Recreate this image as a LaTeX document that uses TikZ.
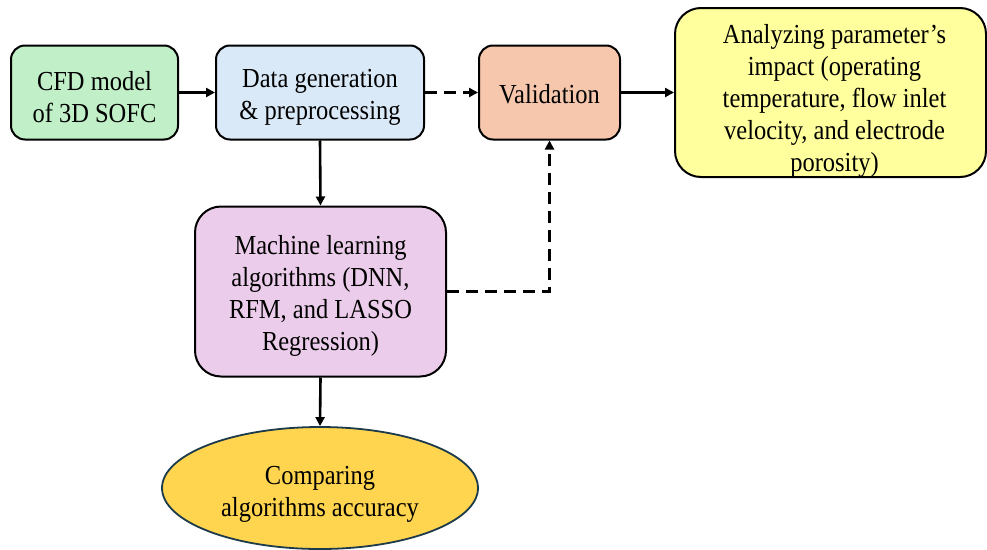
\documentclass[tikz,border=0pt]{standalone}
\usepackage{fontspec}
\setmainfont[FakeStretch=0.89]{Liberation Serif}
\usetikzlibrary{arrows.meta,shapes.geometric}
\definecolor{cfdgreen}{HTML}{C1F0C8}
\definecolor{datablue}{HTML}{DAE9F8}
\definecolor{valpeach}{HTML}{F6C6AD}
\definecolor{mlpurple}{HTML}{EBCCEA}
\definecolor{anayellow}{HTML}{FFFF9E}
\definecolor{cmpgold}{HTML}{FFD54F}
\definecolor{cmpborder}{HTML}{1C3A4A}
\begin{document}
\begin{tikzpicture}[x=1pt,y=-1pt,
  txt/.style={font=\fontsize{27.5}{32}\selectfont,align=center,inner sep=0pt},
  box/.style={draw=black,line width=2pt,rounded corners=14pt,inner sep=0pt},
  conn/.style={line width=2.6pt,-{Triangle[length=9pt,width=9pt]}},
  dconn/.style={conn,dash pattern=on 12pt off 7pt}]
\useasboundingbox (0,0) rectangle (987,549);
% boxes
\node[box,fill=cfdgreen,minimum width=167pt,minimum height=94pt] (cfd) at (94.5,92.5) {};
\node[box,fill=datablue,minimum width=208pt,minimum height=94pt] (data) at (320,92.5) {};
\node[box,fill=valpeach,minimum width=141pt,minimum height=94pt] (val) at (549.5,92.5) {};
\node[box,fill=anayellow,rounded corners=26pt,minimum width=311pt,minimum height=169pt] (ana) at (830.5,92.5) {};
\node[box,fill=mlpurple,rounded corners=26pt,minimum width=251pt,minimum height=170pt] (ml) at (320.5,291.5) {};
\node[ellipse,draw=cmpborder,line width=1.8pt,fill=cmpgold,inner sep=0pt,
  minimum width=316pt,minimum height=122pt] (cmp) at (320,488) {};
% texts
\node[txt] (cfdtext) at ([yshift=-5pt]cfd.center) {CFD model\\of 3D SOFC};
\node[txt] (datatext) at ([yshift=-5pt]data.center) {Data generation\\\& preprocessing};
\node[txt] (valtext) at ([yshift=-2pt]val.center) {Validation};
\node[txt] (anatext) at ([xshift=4pt,yshift=-8pt]ana.center) {Analyzing parameter’s\\impact (operating\\temperature, flow inlet\\velocity, and electrode\\porosity)};
\node[txt] (mltext) at ([yshift=-4pt]ml.center) {Machine learning\\algorithms (DNN,\\RFM, and LASSO\\Regression)};
\node[txt] (cmptext) at ([yshift=-6pt]cmp.center) {Comparing\\algorithms accuracy};
% connectors
\draw[conn] (cfd.east) -- (data.west);
\draw[dconn] (data.east) -- (val.west);
\draw[conn] (val.east) -- (ana.west);
\draw[conn] (data.south) -- (ml.north);
\draw[dconn] (ml.east) -- (ml.east -| val.south) -- (val.south);
\draw[conn] (ml.south) -- (cmp.north);
\end{tikzpicture}
\end{document}
